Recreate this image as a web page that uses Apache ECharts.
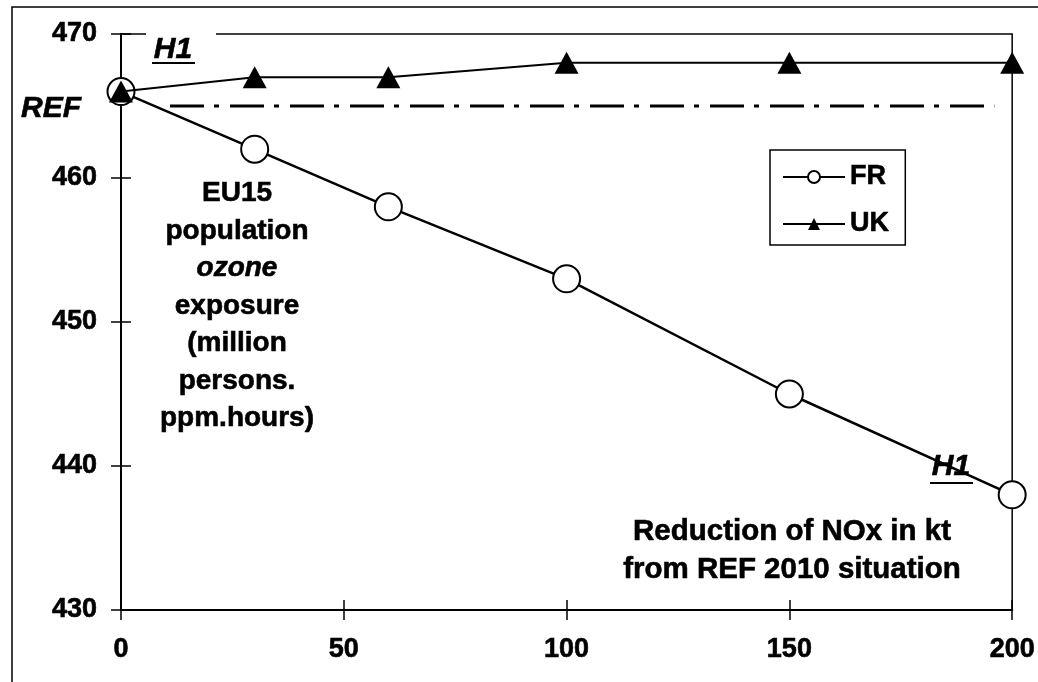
<!DOCTYPE html>
<html>
<head>
<meta charset="utf-8">
<script src="https://cdn.jsdelivr.net/npm/echarts@6/dist/echarts.min.js"></script>
<style>
  html, body { margin: 0; padding: 0; background: #fff; }
  #main { width: 1038px; height: 682px; }
</style>
</head>
<body>
<div id="main"></div>
<script>
// reduction of NOx (kt)
var xValues = [0, 30, 60, 100, 150, 200]
var frValues = [466, 462, 458, 453, 445, 438]
var ukValues = [466, 467, 467, 468, 468, 468]
// REF level (dash-dot line)
var refLevel = 465
var refSpan = [11, 196]
var yTicks = [430, 440, 450, 460, 470]
var xTicks = [0, 50, 100, 150, 200]

var font = '"Liberation Sans", Arial, sans-serif'
var myChart = echarts.init(document.getElementById('main'))

function pairs(xs, ys) {
  return xs.map(function (x, i) { return [x, ys[i]] })
}

var labelStyle = {
  fontFamily: font, fontWeight: 'bold', fontSize: 27, color: '#000',
  textBorderColor: '#000', textBorderWidth: 0.6
}

var axisBase = {
  type: 'value',
  axisLine: { show: true, lineStyle: { color: '#000', width: 2 } },
  splitLine: { show: false }
}

function txt(x, y, text, fnt, extra) {
  var style = {
    text: text, font: fnt, fill: '#000',
    align: 'center', textAlign: 'center',
    verticalAlign: 'middle', textVerticalAlign: 'middle',
    stroke: '#000', lineWidth: 0.6
  }
  Object.assign(style, extra || {})
  return { type: 'text', x: x, y: y, z: 100, style: style }
}

var option = {
  animation: false,
  backgroundColor: '#fff',
  grid: { left: 121, right: 25, top: 34, bottom: 72, show: true, borderColor: '#000', borderWidth: 1.5 },
  legend: {
    data: ['FR', 'UK'],
    orient: 'vertical',
    left: 770,
    top: 150,
    itemWidth: 62,
    itemHeight: 15,
    itemGap: 19,
    padding: [13, 16, 7, 12],
    borderColor: '#000',
    borderWidth: 1.5,
    backgroundColor: '#fff',
    textStyle: { fontFamily: font, fontWeight: 'bold', fontSize: 27, lineHeight: 28, color: '#000',
      textBorderColor: '#000', textBorderWidth: 0.6 }
  },
  xAxis: [
    Object.assign({}, axisBase, {
      min: xTicks[0], max: xTicks[xTicks.length - 1], interval: 50,
      axisTick: { show: true, inside: false, length: 10, lineStyle: { color: '#000', width: 1.5 } },
      axisLabel: Object.assign({ margin: 26 }, labelStyle)
    }),
    Object.assign({}, axisBase, {
      position: 'bottom',
      min: xTicks[0], max: xTicks[xTicks.length - 1], interval: 50,
      axisTick: { show: true, inside: true, length: 10, lineStyle: { color: '#000', width: 1.5 } },
      axisLabel: { show: false }
    })
  ],
  yAxis: [
    Object.assign({}, axisBase, {
      min: yTicks[0], max: yTicks[yTicks.length - 1], interval: 10,
      axisTick: { show: true, inside: false, length: 10, lineStyle: { color: '#000', width: 1.5 } },
      axisLabel: Object.assign({ margin: 24 }, labelStyle)
    }),
    Object.assign({}, axisBase, {
      position: 'left',
      min: yTicks[0], max: yTicks[yTicks.length - 1], interval: 10,
      axisTick: { show: true, inside: true, length: 10, lineStyle: { color: '#000', width: 1.5 } },
      axisLabel: { show: false }
    })
  ],
  series: [
    {
      name: 'REF',
      type: 'line',
      data: [[refSpan[0], refLevel], [refSpan[1], refLevel]],
      symbol: 'none',
      lineStyle: { color: '#000', width: 3, type: [34, 10, 5, 11] },
      z: 1
    },
    {
      name: 'UK',
      type: 'line',
      data: pairs(xValues, ukValues),
      symbol: 'triangle',
      symbolSize: [24, 22],
      itemStyle: { color: '#000' },
      lineStyle: { color: '#000', width: 2 },
      z: 3
    },
    {
      name: 'FR',
      type: 'line',
      data: pairs(xValues, frValues),
      symbol: 'circle',
      symbolSize: 27,
      itemStyle: { color: '#fff', borderColor: '#000', borderWidth: 2 },
      lineStyle: { color: '#000', width: 2.5 },
      z: 2
    }
  ],
  graphic: [
    // outer frame of the figure
    { type: 'rect', shape: { x: 12, y: 7, width: 1040, height: 700 }, style: { fill: 'none', stroke: '#000', lineWidth: 1.5 }, silent: true, z: -10 },
    // gap in the top border near the H1 label
    { type: 'rect', shape: { x: 146, y: 31, width: 70, height: 6 }, style: { fill: '#fff' }, z: 99 },
    txt(173, 50, 'H1', 'italic bold 30px ' + font),
    { type: 'rect', shape: { x: 152, y: 62, width: 43, height: 2 }, style: { fill: '#000' }, z: 101 },
    txt(951, 467, 'H1', 'italic bold 30px ' + font),
    { type: 'rect', shape: { x: 930, y: 482, width: 43, height: 2 }, style: { fill: '#000' }, z: 101 },
    txt(51, 109, 'REF', 'italic bold 30px ' + font),
    txt(237, 306, 'EU15\npopulation\n{i|ozone}\nexposure\n(million\npersons.\nppm.hours)', 'bold 28px ' + font, {
      lineHeight: 37.5,
      rich: { i: { fontFamily: font, fontStyle: 'italic', fontWeight: 'bold', fontSize: 28, lineHeight: 37.5 } }
    }),
    txt(792, 551, 'Reduction of NOx in kt\nfrom REF 2010 situation', 'bold 29.5px ' + font, { lineHeight: 38 })
  ]
}

myChart.setOption(option)
</script>
</body>
</html>
